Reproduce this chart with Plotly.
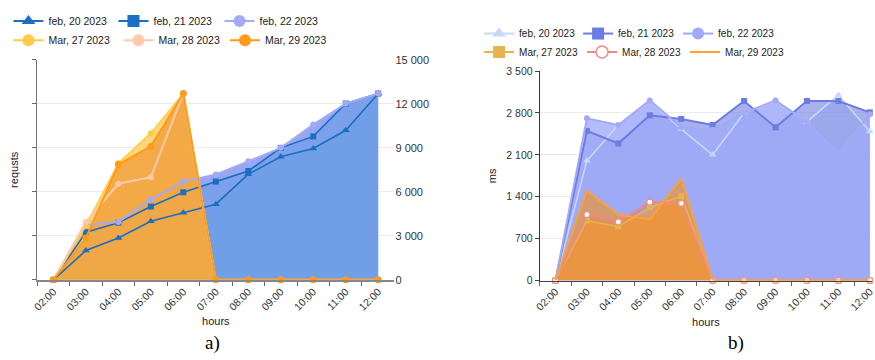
import plotly.graph_objects as go

W, H = 875, 360

hours = ["02:00", "03:00", "04:00", "05:00", "06:00", "07:00",
         "08:00", "09:00", "10:00", "11:00", "12:00"]
names = ["feb, 20 2023", "feb, 21 2023", "feb, 22 2023",
         "Mar, 27 2023", "Mar, 28 2023", "Mar, 29 2023"]

# a) requests
req_feb20 = [0, 2000, 2850, 4000, 4570, 5160, 7200, 8390, 8960, 10200, 12700]
req_feb21 = [0, 3250, 3900, 5000, 5970, 6700, 7420, 9000, 9780, 12020, 12700]
req_feb22 = [0, 3750, 3950, 5490, 6700, 7180, 8080, 9000, 10590, 12020, 12700]
req_mar27 = [0, 3700, 7950, 10000, 12700, 0, 0, 0, 0, 0, 0]
req_mar28 = [0, 3950, 6550, 7000, 12700, 0, 0, 0, 0, 0, 0]
req_mar29 = [0, 2850, 7860, 9100, 12700, 0, 0, 0, 0, 0, 0]

# b) response time, ms
ms_feb20 = [0, 2000, 2600, 3000, 2530, 2100, 2800, 3000, 2650, 3100, 2490]
ms_feb21 = [0, 2500, 2290, 2760, 2700, 2600, 3000, 2560, 3000, 3000, 2810]
ms_feb22 = [0, 2710, 2600, 3010, 2560, 2520, 2800, 3010, 2650, 2130, 2780]
ms_mar27 = [0, 1000, 900, 1220, 1410, 0, 0, 0, 0, 0, 0]
ms_mar28 = [0, 1100, 980, 1310, 1290, 0, 0, 0, 0, 0, 0]
ms_mar29 = [0, 1500, 1100, 1020, 1700, 0, 0, 0, 0, 0, 0]

FONT = "Liberation Sans, Arial, sans-serif"
fig = go.Figure()

# ---------- fills (drawn first) ----------
def fill(x, y, color, xa, ya):
    fig.add_trace(go.Scatter(x=x, y=y, mode="none", fill="tozeroy",
                             fillcolor=color, showlegend=False, hoverinfo="skip",
                             xaxis=xa, yaxis=ya))

fill(hours, req_feb22, "rgba(140,160,240,0.92)", "x", "y")
fill(hours, req_feb21, "rgba(30,140,210,0.22)", "x", "y")
fill(hours, req_feb20, "rgba(30,140,210,0.12)", "x", "y")
fill(hours, req_mar28, "rgba(255,190,150,0.5)", "x", "y")
fill(hours, req_mar27, "rgba(255,200,80,0.75)", "x", "y")
fill(hours, req_mar29, "rgba(240,160,60,0.8)", "x", "y")

fill(hours, ms_feb20, "rgba(190,210,250,0.5)", "x2", "y2")
fill(hours, ms_feb21, "rgba(110,125,225,0.6)", "x2", "y2")
fill(hours, ms_feb22, "rgba(160,170,249,0.79)", "x2", "y2")
fill(hours, ms_mar28, "rgba(230,110,100,0.35)", "x2", "y2")
fill(hours, ms_mar27, "rgba(240,165,60,0.5)", "x2", "y2")
fill(hours, ms_mar29, "rgba(249,144,23,0.6)", "x2", "y2")

# ---------- lines ----------
def line(x, y, color, width, symbol, size, xa, ya, mode="lines+markers",
         mfill=None, mline=None):
    fig.add_trace(go.Scatter(
        x=x, y=y, mode=mode, showlegend=False, cliponaxis=False,
        line=dict(color=color, width=width),
        marker=dict(symbol=symbol, size=size, color=mfill or color,
                    line=dict(color=mline or (mfill or color), width=1.2 if mline else 0)),
        xaxis=xa, yaxis=ya))

L = dict(feb20="#1b6ec2", feb21="#1b6ec2", feb22="#a3abf7",
         mar27="#ffcb47", mar28="#ffc9aa", mar29="#ff9b18")
R = dict(feb20="#c5d8fa", feb21="#6b7de0", feb22="#a2aaf8",
         mar27="#e5b44a", mar28="#ee8a84", mar29="#ffa033")

line(hours, req_feb20, L["feb20"], 1.6, "triangle-up", 7, "x", "y")
line(hours, req_feb21, L["feb21"], 1.6, "square", 6, "x", "y")
line(hours, req_feb22, L["feb22"], 2, "circle", 6, "x", "y")
line(hours, req_mar27, L["mar27"], 1.6, "circle", 6, "x", "y")
line(hours, req_mar28, L["mar28"], 2, "circle", 6, "x", "y")
line(hours, req_mar29, L["mar29"], 2, "circle", 7, "x", "y")

line(hours, ms_feb20, R["feb20"], 1.6, "triangle-up", 7, "x2", "y2")
line(hours, ms_feb21, R["feb21"], 2, "square", 6, "x2", "y2")
line(hours, ms_feb22, R["feb22"], 2, "circle", 6, "x2", "y2")
line(hours, ms_mar27, R["mar27"], 1.6, "square", 6, "x2", "y2")
line(hours, ms_mar28, R["mar28"], 2, "circle", 6, "x2", "y2", mfill="#ffffff", mline=R["mar28"])
line(hours, ms_mar29, R["mar29"], 2, "circle", 5, "x2", "y2", mode="lines")

# ---------- legend entries ----------
def leg(name, color, symbol, legend, lw, mode="lines+markers", mfill=None, mline=None,
        xa="x", ya="y3"):
    fig.add_trace(go.Scatter(
        x=[None], y=[None], name=name, mode=mode, legend=legend, legendwidth=lw,
        line=dict(color=color, width=2),
        marker=dict(symbol=symbol, size=12, color=mfill or color,
                    line=dict(color=mline or (mfill or color), width=1.5 if mline else 0)),
        xaxis=xa, yaxis=ya, hoverinfo="skip"))

leg(names[0], L["feb20"], "triangle-up", "legend", 60)
leg(names[1], L["feb21"], "square", "legend", 61)
leg(names[2], L["feb22"], "circle", "legend", 60)
leg(names[3], L["mar27"], "circle", "legend2", 65)
leg(names[4], L["mar28"], "circle", "legend2", 61.5)
leg(names[5], L["mar29"], "circle", "legend2", 63)

leg(names[0], R["feb20"], "triangle-up", "legend3", 54, xa="x2", ya="y2")
leg(names[1], R["feb21"], "square", "legend3", 55, xa="x2", ya="y2")
leg(names[2], R["feb22"], "circle", "legend3", 55, xa="x2", ya="y2")
leg(names[3], R["mar27"], "square", "legend4", 58, xa="x2", ya="y2")
leg(names[4], R["mar28"], "circle", "legend4", 58, mfill="#ffffff", mline=R["mar28"], xa="x2", ya="y2")
leg(names[5], R["mar29"], "circle", "legend4", 58, mode="lines", xa="x2", ya="y2")

def legend_box(left_px, top_px, size):
    return dict(x=left_px / W, y=1 - top_px / H, xanchor="left", yanchor="top",
                orientation="h", bgcolor="rgba(0,0,0,0)", borderwidth=0,
                font=dict(family=FONT, size=size, color="#222"), traceorder="normal")

tickfont = dict(family=FONT, size=10.5, color="#333")
titlefont = dict(family=FONT, size=11, color="#222")

xcommon = dict(type="category", tickangle=-45, ticks="outside", tickson="boundaries",
               ticklen=4, tickcolor="#666", showline=True, showgrid=False,
               zeroline=False, tickfont=tickfont)

fig.update_layout(
    width=W, height=H, margin=dict(l=0, r=0, t=0, b=0), autosize=False,
    paper_bgcolor="white", plot_bgcolor="white",
    font=dict(family=FONT, size=11, color="#222"),
    separators=". ",
    showlegend=True,
    legend=legend_box(2.5, 0.5, 10.5),
    legend2=legend_box(2.5, 20.5, 10.5),
    legend3=legend_box(478, 13.5, 10),
    legend4=legend_box(478, 32.5, 10),
    xaxis=dict(**xcommon, domain=[31.5 / W, 392.5 / W], anchor="y",
               range=[-0.5, 10.5], linecolor="#888", linewidth=1.5,
               title=dict(text="hours", font=titlefont, standoff=6)),
    yaxis=dict(domain=[1 - 283.3 / H, 1 - 55.7 / H], anchor="x",
               range=[0, 15000], dtick=3000, tick0=0, showticklabels=False,
               ticks="outside", ticklen=4, tickcolor="#666",
               showline=True, linecolor="#777", linewidth=1,
               showgrid=True, gridcolor="#ebebeb", zeroline=False,
               title=dict(text="requsts", font=titlefont, standoff=11)),
    yaxis3=dict(overlaying="y", side="right", anchor="x",
                range=[0, 15000], dtick=3000, tick0=0, showgrid=False,
                showline=False, ticks="", zeroline=False, tickformat=",d",
                tickfont=dict(family=FONT, size=11, color="#333")),
    xaxis2=dict(**xcommon, domain=[539.3 / W, 1.0], anchor="y2",
                range=[-0.5, 10.07], linecolor="#444", linewidth=1,
                title=dict(text="hours", font=titlefont, standoff=6)),
    yaxis2=dict(domain=[1 - 284 / H, 1 - 67.3 / H], anchor="x2",
                range=[0, 3500], dtick=700, tick0=0,
                ticks="outside", ticklen=4, tickcolor="#444",
                showline=True, linecolor="#333", linewidth=1,
                showgrid=True, gridcolor="#ebebeb", zeroline=False,
                tickformat=",d", tickfont=tickfont,
                title=dict(text="ms", font=titlefont, standoff=7)),
    annotations=[
        dict(text="a)", x=209 / W, y=1 - 349 / H, xref="paper", yref="paper",
             showarrow=False, xanchor="center", yanchor="middle",
             font=dict(family="Liberation Serif, Times New Roman, serif", size=19, color="#000")),
        dict(text="b)", x=738 / W, y=1 - 349 / H, xref="paper", yref="paper",
             showarrow=False, xanchor="center", yanchor="middle",
             font=dict(family="Liberation Serif, Times New Roman, serif", size=19, color="#000")),
    ],
)

fig.write_html("out.html")
